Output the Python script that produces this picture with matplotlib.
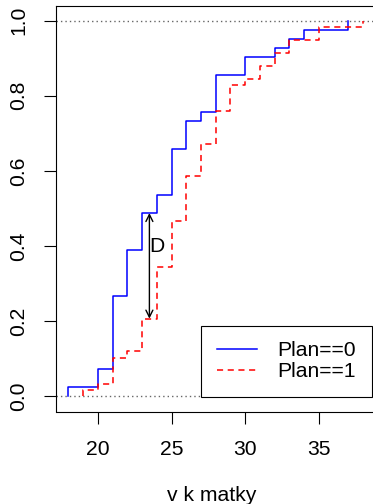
import matplotlib
matplotlib.use("Agg")
import matplotlib.pyplot as plt

plt.rcParams['font.family'] = ['Liberation Sans', 'DejaVu Sans']

plan0_x = [18, 20, 21, 22, 23, 24, 25, 26, 27, 28, 30, 32, 33, 34, 37]
plan0_y = [0.024, 0.073, 0.268, 0.390, 0.488, 0.537, 0.659, 0.732, 0.756,
           0.854, 0.902, 0.927, 0.951, 0.976, 1.0]
plan1_x = [19, 20, 21, 22, 23, 24, 25, 26, 27, 28, 29, 30, 31, 32, 33, 35, 38]
plan1_y = [0.017, 0.034, 0.103, 0.121, 0.207, 0.345, 0.466, 0.586, 0.672,
           0.759, 0.828, 0.845, 0.879, 0.914, 0.948, 0.983, 1.0]
labels = ["Plan==0", "Plan==1"]

# KS statistika D
d_x = 23.5
d_top = 0.488
d_bottom = 0.207

fs = 15.2
W, H = 373, 504
fig = plt.figure(figsize=(W / 100, H / 100), dpi=100)
left, right, top, bottom = 56.5, 375.0, 5.5, 411.5
ax = fig.add_axes([left / W, 1 - bottom / H, (right - left) / W, (bottom - top) / H])

ax.axhline(0, color='#666666', lw=1.0, ls=(0, (1, 2.2)), zorder=1)
ax.axhline(1, color='#666666', lw=1.0, ls=(0, (1, 2.2)), zorder=1)

ax.step([plan0_x[0]] + plan0_x, [0] + plan0_y, where='post', color='blue',
        lw=1.1, label=labels[0], zorder=2)
ax.step([plan1_x[0]] + plan1_x, [0] + plan1_y, where='post', color='red',
        lw=1.1, ls=(0, (4, 3)), label=labels[1], zorder=3)

ax.annotate('', xy=(d_x, d_top), xytext=(d_x, d_bottom),
            arrowprops=dict(arrowstyle='<->,head_length=0.5,head_width=0.25',
                            color='black', lw=1.0, shrinkA=0, shrinkB=0),
            zorder=4)
ax.text(24.0, 0.40, "D", fontsize=fs, ha='center', va='center')

ax.set_xlim(17.2, 38.8)
ax.set_ylim(-0.04, 1.04)
ax.set_xticks([20, 25, 30, 35])
ax.set_yticks([0.0, 0.2, 0.4, 0.6, 0.8, 1.0])
ax.set_yticklabels(["0.0", "0.2", "0.4", "0.6", "0.8", "1.0"])
ax.tick_params(length=8.6, width=0.8, color='black', labelsize=fs)
ax.tick_params(axis='x', pad=12)
ax.tick_params(axis='y', pad=12)
for t in ax.get_yticklabels():
    t.set_rotation(90)
    t.set_va('center')
for s in ax.spines.values():
    s.set_linewidth(0.8)
    s.set_color('black')

fig.text(212 / W, 1 - 495.5 / H, "v k matky", fontsize=fs, ha='center', va='center')

# legenda
lx1, ly1 = 371.7, 397.3
leg = ax.legend(loc='lower right',
                bbox_to_anchor=((lx1 - left) / (right - left), (bottom - ly1) / (bottom - top)),
                borderaxespad=0, fontsize=fs, frameon=True, fancybox=False,
                edgecolor='black', framealpha=1, handlelength=1.9,
                handletextpad=0.95, borderpad=0.75, labelspacing=0.1)
leg.get_frame().set_linewidth(0.8)
leg.set_zorder(5)

fig.savefig("out.png", dpi=100)
